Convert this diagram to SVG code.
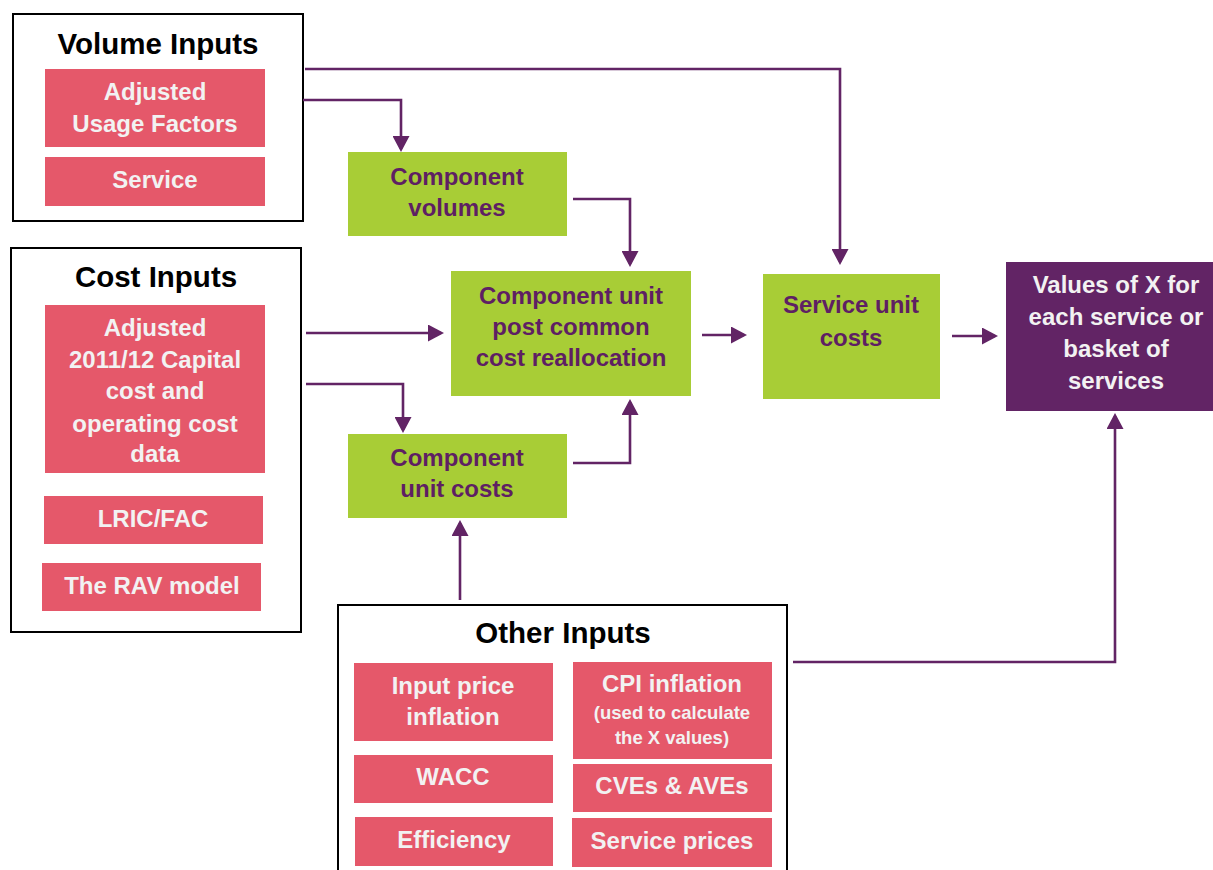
<svg xmlns="http://www.w3.org/2000/svg" width="1213" height="870" viewBox="0 0 1213 870">
<defs>
<style>
.frame{fill:#fff;stroke:#000;stroke-width:2}
.pink{fill:#E5586A}
.green{fill:#A8CD36}
.purple{fill:#622465}
.title{font-family:"Liberation Sans",Arial,sans-serif;font-weight:bold;font-size:29.5px;fill:#000;text-anchor:middle}
.pt{font-family:"Liberation Sans",Arial,sans-serif;font-weight:bold;font-size:24px;fill:#F2F2F2;text-anchor:middle}
.ps{font-family:"Liberation Sans",Arial,sans-serif;font-weight:bold;font-size:18.5px;fill:#F2F2F2;text-anchor:middle}
.gt{font-family:"Liberation Sans",Arial,sans-serif;font-weight:bold;font-size:24px;fill:#5E1F63;text-anchor:middle}
.wt{font-family:"Liberation Sans",Arial,sans-serif;font-weight:bold;font-size:24px;fill:#F2F2F2;text-anchor:middle}
.conn{fill:none;stroke:#622465;stroke-width:2.6;marker-end:url(#ah)}
</style>
<marker id="ah" markerUnits="userSpaceOnUse" markerWidth="17" markerHeight="17" refX="13" refY="8.5" orient="auto">
<path d="M0,0 L16,8.5 L0,17 Z" fill="#622465"/>
</marker>
</defs>

<g id="volume-inputs">
<rect class="frame" x="13" y="14" width="290" height="207"/>
<text class="title" x="158" y="54">Volume Inputs</text>
<rect class="pink" x="45" y="69" width="220" height="78"/>
<text class="pt" x="155" y="100">Adjusted</text>
<text class="pt" x="155" y="132">Usage Factors</text>
<rect class="pink" x="45" y="157" width="220" height="49"/>
<text class="pt" x="155" y="188">Service</text>
</g>

<g id="cost-inputs">
<rect class="frame" x="11" y="248" width="290" height="384"/>
<text class="title" x="156" y="287">Cost Inputs</text>
<rect class="pink" x="45" y="305" width="220" height="168"/>
<text class="pt" x="155" y="336">Adjusted</text>
<text class="pt" x="155" y="368">2011/12 Capital</text>
<text class="pt" x="155" y="399">cost and</text>
<text class="pt" x="155" y="432">operating cost</text>
<text class="pt" x="155" y="462">data</text>
<rect class="pink" x="44" y="496" width="219" height="48"/>
<text class="pt" x="153" y="527">LRIC/FAC</text>
<rect class="pink" x="42" y="563" width="219" height="48"/>
<text class="pt" x="152" y="594">The RAV model</text>
</g>

<g id="other-inputs">
<rect class="frame" x="338" y="605" width="449" height="280"/>
<text class="title" x="563" y="643">Other Inputs</text>
<rect class="pink" x="354" y="663" width="199" height="78"/>
<text class="pt" x="453" y="694">Input price</text>
<text class="pt" x="453" y="725">inflation</text>
<rect class="pink" x="354" y="755" width="199" height="48"/>
<text class="pt" x="453" y="785">WACC</text>
<rect class="pink" x="355" y="817" width="198" height="49"/>
<text class="pt" x="454" y="848">Efficiency</text>
<rect class="pink" x="573" y="662" width="199" height="97"/>
<text class="pt" x="672" y="692">CPI inflation</text>
<text class="ps" x="672" y="719">(used to calculate</text>
<text class="ps" x="672" y="744">the X values)</text>
<rect class="pink" x="573" y="764" width="199" height="48"/>
<text class="pt" x="672" y="794">CVEs &amp; AVEs</text>
<rect class="pink" x="572" y="818" width="200" height="49"/>
<text class="pt" x="672" y="849">Service prices</text>
</g>

<g id="component-volumes">
<rect class="green" x="348" y="152" width="219" height="84"/>
<text class="gt" x="457" y="185">Component</text>
<text class="gt" x="457" y="216">volumes</text>
</g>

<g id="component-unit-post">
<rect class="green" x="451" y="271" width="240" height="125"/>
<text class="gt" x="571" y="304">Component unit</text>
<text class="gt" x="571" y="335">post common</text>
<text class="gt" x="571" y="366">cost reallocation</text>
</g>

<g id="component-unit-costs">
<rect class="green" x="348" y="434" width="219" height="84"/>
<text class="gt" x="457" y="466">Component</text>
<text class="gt" x="457" y="497">unit costs</text>
</g>

<g id="service-unit-costs">
<rect class="green" x="763" y="274" width="177" height="125"/>
<text class="gt" x="851" y="313">Service unit</text>
<text class="gt" x="851" y="346">costs</text>
</g>

<g id="values-of-x">
<rect class="purple" x="1006" y="262" width="207" height="149"/>
<text class="wt" x="1116" y="293">Values of X for</text>
<text class="wt" x="1116" y="325">each service or</text>
<text class="wt" x="1116" y="357">basket of</text>
<text class="wt" x="1116" y="389">services</text>
</g>

<g id="connectors">
<path class="conn" d="M305,69 H840 V262"/>
<path class="conn" d="M303,100 H401 V149"/>
<path class="conn" d="M573,199 H630 V264"/>
<path class="conn" d="M306,333 H441"/>
<path class="conn" d="M306,384 H403 V430"/>
<path class="conn" d="M573,463 H630 V402"/>
<path class="conn" d="M460,600 V523"/>
<path class="conn" d="M702,335 H744"/>
<path class="conn" d="M952,336 H995"/>
<path class="conn" d="M793,662 H1115 V416"/>
</g>
</svg>
